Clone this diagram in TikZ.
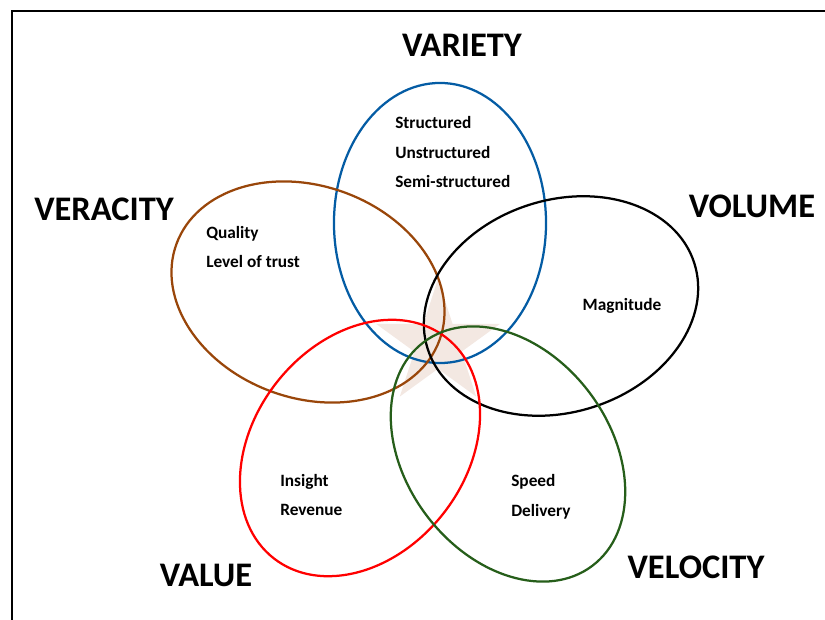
\documentclass[tikz,border=0pt]{standalone}
\usepackage{fontspec}
\setmainfont{Carlito}
\usetikzlibrary{shapes.geometric}

\definecolor{varblue}{RGB}{4,92,164}
\definecolor{verbrown}{RGB}{153,70,10}
\definecolor{velgreen}{RGB}{38,94,26}
\definecolor{corefill}{RGB}{243,232,226}

\begin{document}
\begin{tikzpicture}[x=0.025cm,y=0.025cm,
    vee/.style={ellipse,draw,line width=1.6pt,minimum width=7cm,minimum height=5.3cm,inner sep=0},
    title/.style={font=\fontsize{24.5}{27}\selectfont\bfseries,inner sep=0},
    facts/.style={font=\fontsize{12.3}{21}\selectfont\bfseries,align=left,anchor=west,inner sep=0}]
    \useasboundingbox (0,0) rectangle (825,620);
    % frame
    \draw[line width=1.4pt] (12,0) -- (12,609) -- (825,609);

    % shaded core
    \node[star,star points=5,star point ratio=2.618,minimum size=3.25cm,inner sep=0,fill=corefill] (core) at (438,276) {};

    % the five V's
    \node[vee,draw=varblue,rotate=90] (variety) at (440,397) {};
    \node[vee,draw=verbrown,rotate=-20] (veracity) at (308,328) {};
    \node[vee,draw=black,rotate=18] (volume) at (561,314) {};
    \node[vee,draw=red,rotate=52] (value) at (360,172) {};
    \node[vee,draw=velgreen,rotate=-53,minimum height=5.1cm] (velocity) at (508,166) {};

    \node[title] (tvariety) at (462,575) {VARIETY};
    \node[title] (tveracity) at (104,411) {VERACITY};
    \node[title] (tvolume) at (752,414) {VOLUME};
    \node[title] (tvalue) at (206,45) {VALUE};
    \node[title] (tvelocity) at (696,53) {VELOCITY};

    \node[facts] (fvariety) at (395,468) {Structured\\Unstructured\\Semi-structured};
    \node[facts] (fveracity) at (206,373) {Quality\\Level of trust};
    \node[facts,anchor=center] (fvolume) at (622,314) {Magnitude};
    \node[facts] (fvalue) at (280,125) {Insight\\Revenue};
    \node[facts] (fvelocity) at (511,123) {Speed\\Delivery};
\end{tikzpicture}
\end{document}
